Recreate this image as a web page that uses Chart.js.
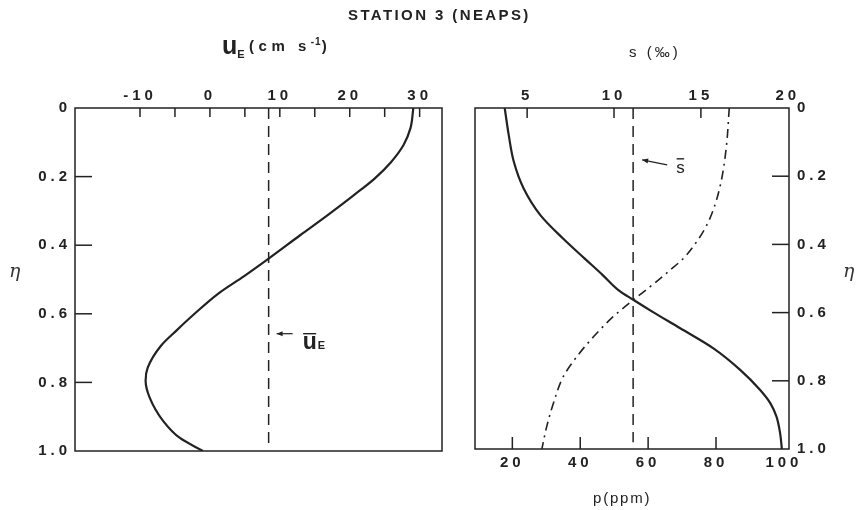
<!DOCTYPE html>
<html>
<head>
<meta charset="utf-8">
<script src="https://cdn.jsdelivr.net/npm/chart.js@4.4.0/dist/chart.umd.min.js"></script>
<style>
  body { margin: 0; background: #fff; }
  #wrap { position: relative; width: 859px; height: 510px; overflow: hidden;
          font-family: "Liberation Sans", Arial, sans-serif; color: #222; }
  canvas { position: absolute; top: 0; }
  .lbl { position: absolute; white-space: nowrap; font-weight: bold; line-height: 1; }
  .eta { position: absolute; font-family: "DejaVu Serif", serif; font-style: italic; font-size: 19px; color: #333; }
</style>
</head>
<body>
<div id="wrap">
  <canvas id="leftChart" width="460" height="510" style="left:0"></canvas>
  <canvas id="rightChart" width="399" height="510" style="left:460px"></canvas>

  <div class="lbl" style="left:348px; top:7px; font-size:15px; letter-spacing:2.4px;">STATION 3 (NEAPS)</div>
  <div class="lbl" style="left:222px; top:33px;">
    <span style="font-size:25px;">u</span><span style="font-size:11px; position:relative; top:4px;">E</span>
    <span style="font-size:15px; letter-spacing:4.5px; position:relative; top:-3px; font-weight:600;">(cm s<sup style="font-size:10px; letter-spacing:1px;">-1</sup>)</span>
  </div>
  <div class="lbl" style="left:629px; top:44px; font-size:15px; font-weight:normal; letter-spacing:3px;">s (‰)</div>
  <div class="lbl" style="left:593px; top:490px; font-size:15px; font-weight:normal; letter-spacing:1.8px;">p(ppm)</div>
  <div class="eta" style="left:9px; top:259px;">η</div>
  <div class="eta" style="left:843px; top:259px;">η</div>
</div>

<script>
// Left panel: Eulerian residual velocity u_E vs eta
const etaU = [0, 0.058, 0.108, 0.158, 0.205, 0.254, 0.313, 0.371, 0.439, 0.49, 0.541, 0.6, 0.649, 0.693, 0.757, 0.795, 0.845, 0.912, 0.962, 1.0];
const uE   = [29.1, 28.7, 27.7, 25.9, 23.6, 20.6, 16.8, 12.9, 8.4, 4.9, 1.2, -2.2, -4.8, -7.0, -8.9, -9.2, -8.6, -6.7, -4.3, -1.0];
const uMean = 8.4;

// Right panel: salinity S (top axis) and p (bottom axis) vs eta
const etaS = [0, 0.079, 0.157, 0.236, 0.314, 0.382, 0.441, 0.49, 0.534, 0.563, 0.597, 0.646, 0.705, 0.768, 0.827, 0.866, 0.905, 0.954, 1.0];
const salinity = [3.71, 3.94, 4.23, 4.80, 5.76, 7.05, 8.3, 9.35, 10.25, 11.13, 12.2, 13.81, 15.72, 17.26, 18.41, 19.0, 19.35, 19.56, 19.66];
const sMean = 11.1;

const etaP = [0, 0.108, 0.206, 0.284, 0.343, 0.392, 0.441, 0.475, 0.524, 0.563, 0.612, 0.671, 0.729, 0.788, 0.866, 0.935, 1.0];
const ppm  = [83.9, 83.1, 81.7, 79.7, 77.3, 74.3, 70.4, 66.5, 60.6, 55.6, 49.7, 43.9, 39.0, 35.0, 32.1, 30.1, 28.7];

// tick labels
const etaTicks = [0, 0.2, 0.4, 0.6, 0.8, 1.0];
const uTicks = [-10, -5, 0, 5, 10, 15, 20, 25, 30];
const sTicks = [5, 10, 15, 20];
const pTicks = [20, 40, 60, 80, 100];

const INK = '#222';
const tickFont = { family: '"Liberation Sans", Arial, sans-serif', size: 15, weight: 'bold' };

function pairs(xs, ys) {
    return xs.map((x, i) => ({ x: x, y: ys[i] }));
}

function fixedTicks(values) {
    return function(axis) {
        axis.ticks = values.map(v => ({ value: v }));
    };
}

function etaLabel(v) {
    return v === 0 ? '0' : v.toFixed(1);
}

// frame + inward tick marks
const frameTicks = {
    id: 'frameTicks',
    beforeDraw(chart) {
        chart.ctx.letterSpacing = '4px';
    },
    afterDatasetsDraw(chart, args, opts) {
        const ctx = chart.ctx, a = chart.chartArea;
        ctx.save();
        ctx.strokeStyle = INK;
        ctx.lineWidth = 1.5;
        ctx.strokeRect(a.left, a.top, a.right - a.left, a.bottom - a.top);
        (opts.marks || []).forEach(m => {
            const sc = chart.scales[m.scale];
            m.values.forEach(v => {
                const p = sc.getPixelForValue(v);
                ctx.beginPath();
                if (sc.position === 'top') { ctx.moveTo(p, a.top); ctx.lineTo(p, a.top + m.len); }
                else if (sc.position === 'bottom') { ctx.moveTo(p, a.bottom); ctx.lineTo(p, a.bottom - m.len); }
                else if (sc.position === 'left') { ctx.moveTo(a.left, p); ctx.lineTo(a.left + m.len, p); }
                else { ctx.moveTo(a.right, p); ctx.lineTo(a.right - m.len, p); }
                ctx.stroke();
            });
        });
        ctx.restore();
    }
};

// arrow + label pointing at the mean line
const meanLabel = {
    id: 'meanLabel',
    afterDatasetsDraw(chart, args, opts) {
        if (!opts.scale) return;
        const ctx = chart.ctx;
        const x0 = chart.scales[opts.scale].getPixelForValue(opts.value);
        const y0 = chart.scales.y.getPixelForValue(opts.eta);
        ctx.save();
        ctx.letterSpacing = '0px';
        ctx.strokeStyle = INK;
        ctx.fillStyle = INK;
        ctx.lineWidth = 1.2;
        const tx = x0 + opts.tip, ty = y0;
        const ex = x0 + opts.tail, ey = y0 + opts.tailDy;
        ctx.beginPath(); ctx.moveTo(ex, ey); ctx.lineTo(tx, ty); ctx.stroke();
        const ang = Math.atan2(ty - ey, tx - ex);
        ctx.beginPath();
        ctx.moveTo(tx, ty);
        ctx.lineTo(tx - 6 * Math.cos(ang) + 2.5 * Math.sin(ang), ty - 6 * Math.sin(ang) - 2.5 * Math.cos(ang));
        ctx.lineTo(tx - 6 * Math.cos(ang) - 2.5 * Math.sin(ang), ty - 6 * Math.sin(ang) + 2.5 * Math.cos(ang));
        ctx.closePath(); ctx.fill();
        // text with overbar and optional subscript
        const lx = x0 + opts.textDx, ly = y0 + opts.textDy;
        ctx.font = opts.font;
        ctx.textBaseline = 'alphabetic';
        ctx.fillText(opts.text, lx, ly);
        const w = ctx.measureText(opts.text).width;
        ctx.lineWidth = 1.4;
        ctx.beginPath(); ctx.moveTo(lx + 0.5, ly - opts.barH); ctx.lineTo(lx + w - 0.5, ly - opts.barH); ctx.stroke();
        if (opts.sub) {
            ctx.font = opts.subFont;
            ctx.fillText(opts.sub, lx + w + 1, ly);
        }
        ctx.restore();
    }
};

function yScale(position, width, pad) {
    return {
        type: 'linear', position: position, reverse: true, min: 0, max: 1,
        grid: { display: false, drawTicks: false }, border: { display: false },
        afterBuildTicks: fixedTicks(etaTicks),
        afterFit(scale) { scale.width = width; },
        ticks: { font: tickFont, color: INK, padding: pad, autoSkip: false, callback: etaLabel }
    };
}

function xScale(position, min, max, ticks, height, pad, cb) {
    return {
        type: 'linear', position: position, axis: 'x', min: min, max: max,
        grid: { display: false, drawTicks: false }, border: { display: false },
        afterBuildTicks: fixedTicks(ticks),
        afterFit(scale) { scale.height = height; },
        ticks: { font: tickFont, color: INK, padding: pad, autoSkip: false, maxRotation: 0,
                 callback: cb || (v => String(v)) }
    };
}

// profiles are functions of eta, so interpolate along the y axis
const baseLine = { showLine: true, pointRadius: 0, fill: false, borderColor: INK,
                   indexAxis: 'y', cubicInterpolationMode: 'monotone' };

// Left chart
new Chart(document.getElementById('leftChart'), {
    type: 'scatter',
    data: {
        datasets: [
            Object.assign({}, baseLine, { label: 'uE', data: pairs(uE, etaU), borderWidth: 2.2 }),
            Object.assign({}, baseLine, { label: 'uE mean', data: pairs([uMean, uMean], [0, 0.98]),
                borderWidth: 1.5, borderDash: [11, 7] })
        ]
    },
    options: {
        responsive: false,
        animation: false,
        layout: { padding: { right: 18, bottom: 59 } },
        plugins: {
            legend: { display: false },
            tooltip: { enabled: false },
            frameTicks: { marks: [
                { scale: 'x', values: uTicks, len: 9 },
                { scale: 'y', values: [0.2, 0.4, 0.6, 0.8], len: 17 }
            ] },
            meanLabel: { scale: 'x', value: uMean, eta: 0.658, tip: 8, tail: 24, tailDy: 0,
                textDx: 34, textDy: 15, text: 'u', font: 'bold 23px "Liberation Sans", Arial', barH: 15,
                sub: 'E', subFont: 'bold 11px "Liberation Sans", Arial' }
        },
        scales: {
            x: xScale('top', -19.3, 33.2, uTicks, 108, 3, v => (v % 10 === 0 ? String(v) : '')),
            y: yScale('left', 75, 4)
        }
    },
    plugins: [frameTicks, meanLabel]
});

// Right chart
new Chart(document.getElementById('rightChart'), {
    type: 'scatter',
    data: {
        datasets: [
            Object.assign({}, baseLine, { label: 'S', data: pairs(salinity, etaS), borderWidth: 2.2,
                xAxisID: 'xS', yAxisID: 'y' }),
            Object.assign({}, baseLine, { label: 'p', data: pairs(ppm, etaP), borderWidth: 1.6,
                borderDash: [9, 5, 2, 5], xAxisID: 'xP', yAxisID: 'y' }),
            Object.assign({}, baseLine, { label: 'S mean', data: pairs([sMean, sMean], [0, 0.98]),
                borderWidth: 1.5, borderDash: [11, 7], xAxisID: 'xS', yAxisID: 'y' })
        ]
    },
    options: {
        responsive: false,
        animation: false,
        layout: { padding: { left: 15 } },
        plugins: {
            legend: { display: false },
            tooltip: { enabled: false },
            frameTicks: { marks: [
                { scale: 'xS', values: [5, 10, 15], len: 10 },
                { scale: 'xP', values: [20, 40, 60, 80], len: 12 },
                { scale: 'y', values: [0.2, 0.4, 0.6, 0.8], len: 17 }
            ] },
            meanLabel: { scale: 'xS', value: sMean, eta: 0.152, tip: 9, tail: 34, tailDy: 5,
                textDx: 43, textDy: 13, text: 's', font: '17px "Liberation Sans", Arial', barH: 14 }
        },
        scales: {
            xS: xScale('top', 2.0, 20.07, sTicks, 108, 3),
            xP: xScale('bottom', 9.0, 101.5, pTicks, 61, 5),
            y: yScale('right', 70, 8)
        }
    },
    plugins: [frameTicks, meanLabel]
});
</script>
</body>
</html>
